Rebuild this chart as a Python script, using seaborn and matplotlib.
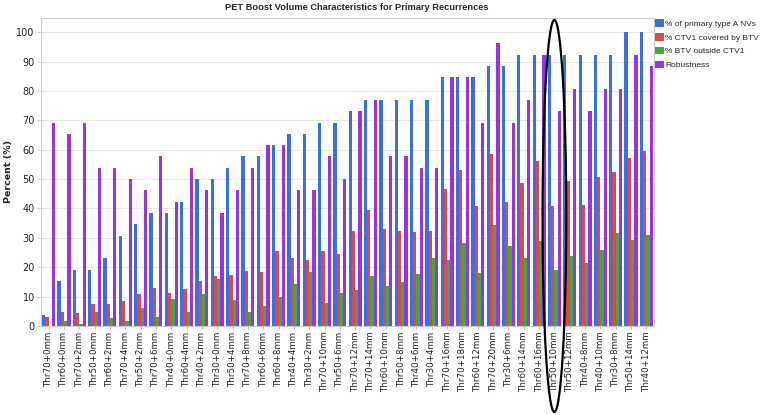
import matplotlib
matplotlib.use("Agg")
import matplotlib.pyplot as plt
import matplotlib.transforms as mtransforms
from matplotlib.patches import Ellipse, Patch
import seaborn as sns
import pandas as pd

categories = ["Thr70+0mm", "Thr60+0mm", "Thr70+2mm", "Thr50+0mm", "Thr60+2mm", "Thr70+4mm",
              "Thr50+2mm", "Thr70+6mm", "Thr40+0mm", "Thr60+4mm", "Thr40+2mm", "Thr30+0mm",
              "Thr50+4mm", "Thr70+8mm", "Thr60+6mm", "Thr60+8mm", "Thr40+4mm", "Thr30+2mm",
              "Thr70+10mm", "Thr50+6mm", "Thr70+12mm", "Thr70+14mm", "Thr60+10mm", "Thr50+8mm",
              "Thr40+6mm", "Thr30+4mm", "Thr70+16mm", "Thr70+18mm", "Thr60+12mm", "Thr70+20mm",
              "Thr30+6mm", "Thr60+14mm", "Thr60+16mm", "Thr50+10mm", "Thr50+12mm", "Thr40+8mm",
              "Thr40+10mm", "Thr30+8mm", "Thr50+14mm", "Thr40+12mm"]

series_names = ["% of primary type A NVs", "% CTV1 covered by BTV", "% BTV outside CTV1", "Robustness"]

type_a_nvs = [3.8, 15.4, 19.2, 19.2, 23.1, 30.8, 34.6, 38.5, 38.5, 42.3, 50, 50, 53.8, 57.7,
              57.7, 61.5, 65.4, 65.4, 69.2, 69.2, 73.1, 76.9, 76.9, 76.9, 76.9, 76.9, 84.6, 84.6,
              84.6, 88.5, 88.5, 92.3, 92.3, 92.3, 92.3, 92.3, 92.3, 92.3, 100, 100]
ctv1_covered = [2.9, 4.9, 4.5, 7.6, 7.4, 8.5, 10.9, 13.0, 11.2, 12.5, 15.4, 17.0, 17.2, 18.8,
                18.5, 25.5, 23.3, 22.3, 25.4, 24.5, 32.2, 39.6, 33.0, 32.4, 31.9, 32.3, 46.7, 53.0,
                40.8, 58.7, 42.2, 48.7, 56.0, 40.8, 49.2, 41.3, 50.6, 52.5, 57.3, 59.5]
btv_outside = [0.0, 1.7, 0.7, 4.8, 2.6, 1.7, 6.1, 2.9, 9.2, 4.8, 10.9, 16.0, 8.7, 4.9,
               6.9, 10.0, 14.2, 18.5, 7.9, 11.4, 12.1, 16.9, 13.6, 15.0, 17.6, 23.0, 22.4, 28.3,
               18.1, 34.3, 27.3, 23.3, 29.1, 18.9, 23.8, 21.5, 25.9, 31.8, 29.3, 30.9]
robustness = [69.2, 65.4, 69.2, 53.8, 53.8, 50, 46.2, 57.7, 42.3, 53.8, 46.2, 38.5, 46.2, 53.8,
              61.5, 61.5, 46.2, 46.2, 57.7, 50, 73.1, 76.9, 57.7, 57.7, 53.8, 53.8, 84.6, 84.6,
              69.2, 96.2, 69.2, 76.9, 92.3, 73.1, 80.8, 73.1, 80.8, 80.8, 92.3, 88.5]

highlighted = "Thr50+10mm"

colors = ["#3a6ee6", "#e0474c", "#3aab3f", "#9a32e4"]

rows = []
for name, vals in zip(series_names, [type_a_nvs, ctv1_covered, btv_outside, robustness]):
    for c, v in zip(categories, vals):
        rows.append({"Category": c, "Series": name, "Value": v})
df = pd.DataFrame(rows)

sns.set_style("white")
plt.rcParams["font.family"] = ["DejaVu Sans"]

fig = plt.figure(figsize=(7.71, 4.15), dpi=100)
ax = fig.add_axes([41 / 771, 1 - 326 / 415, (654 - 41) / 771, (326 - 17.5) / 415])

sns.barplot(data=df, x="Category", y="Value", hue="Series", order=categories,
            hue_order=series_names, palette=colors, width=0.85, ax=ax,
            saturation=1, legend=False, linewidth=0)

ax.set_xlim(-0.5, len(categories) - 0.5)
ax.set_ylim(0, 105)
ax.set_yticks(range(0, 101, 10))
ax.tick_params(axis="y", labelsize=7, length=3, color="#cccccc", width=0.8, pad=1.5,
               labelcolor="#222222", left=True)
ax.tick_params(axis="x", labelsize=6.3, length=2, color="#bbbbbb", pad=2, labelcolor="#222222",
               bottom=True)
plt.setp(ax.get_xticklabels(), rotation=90)
ax.set_xlabel("")
ax.set_ylabel("Percent (%)", fontsize=6.8, fontweight="bold")
ax.yaxis.set_label_coords(-28 / 613, 0.5)
ax.grid(axis="y", color="#e8e8e8", linewidth=0.8)
ax.set_axisbelow(True)
for sp in ax.spines.values():
    sp.set_color("#cccccc")
    sp.set_linewidth(0.8)

fig.text(357 / 771, 1 - 8 / 415, "PET Boost Volume Characteristics for Primary Recurrences",
         ha="center", va="center", fontsize=6.7, fontweight="bold", family="Liberation Sans")

handles = [Patch(facecolor=c, edgecolor="none") for c in colors]
fig.legend(handles, series_names, loc="upper left", bbox_to_anchor=(655 / 771, 1 - 19 / 415),
           frameon=False, borderpad=0, borderaxespad=0, handlelength=1.05, handleheight=1.05,
           handletextpad=0.2, labelspacing=0.62, prop={"family": "Liberation Sans", "size": 6})

idx = categories.index(highlighted)
trans = mtransforms.blended_transform_factory(ax.transData, fig.transFigure)
ell = Ellipse((idx, 1 - 216 / 415), width=1.55, height=392 / 415, transform=trans,
              fill=False, edgecolor="black", linewidth=1.6, clip_on=False)
fig.add_artist(ell)

fig.savefig("out.png", dpi=100)
